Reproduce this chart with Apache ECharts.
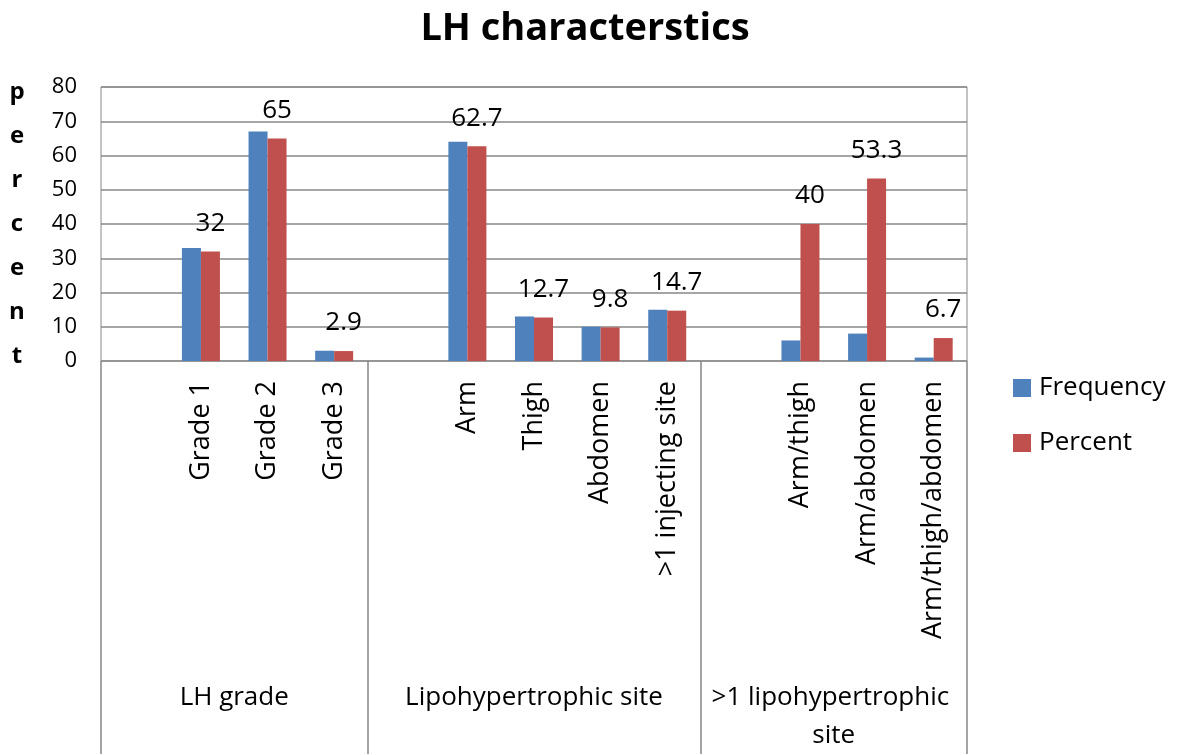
<!DOCTYPE html>
<html>
<head>
<meta charset="utf-8">
<script src="https://cdn.jsdelivr.net/npm/echarts@6/dist/echarts.min.js"></script>
<style>
  html, body { margin: 0; padding: 0; background: #fff; }
  #main { width: 1179px; height: 755px; }
</style>
</head>
<body>
<div id="main"></div>
<script>
  // categories, '' = blank slot that starts each group
  const categories = ['', 'Grade 1', 'Grade 2', 'Grade 3',
    '', 'Arm', 'Thigh', 'Abdomen', '>1 injecting site',
    '', 'Arm/thigh', 'Arm/abdomen', 'Arm/thigh/abdomen']
  const frequency = [null, 33, 67, 3, null, 64, 13, 10, 15, null, 6, 8, 1]
  const percent = [null, 32, 65, 2.9, null, 62.7, 12.7, 9.8, 14.7, null, 40, 53.3, 6.7]
  const groupNames = ['LH grade', 'Lipohypertrophic site', '>1 lipohypertrophic site']
  const yTicks = [0, 10, 20, 30, 40, 50, 60, 70, 80]
  const yName = 'percent'

  // group boundaries come from the blank slots
  const bounds = []
  categories.forEach((c, i) => { if (c === '') bounds.push(i) })
  bounds.push(categories.length)
  const centers = groupNames.map((g, i) => (bounds[i] + bounds[i + 1]) / 2)

  const font = '"Open Sans", sans-serif'
  const lineColor = '#878787'

  const option = {
    animation: false,
    textStyle: { fontFamily: font },
    title: {
      text: 'LH characterstics',
      left: 580,
      textAlign: 'center',
      top: 5,
      textStyle: { fontFamily: font, fontSize: 38, fontWeight: 'bold', color: '#000' }
    },
    legend: {
      orient: 'vertical',
      left: 1008,
      top: 370,
      itemWidth: 18,
      itemHeight: 18,
      itemGap: 29,
      icon: 'rect',
      data: ['Frequency', 'Percent'],
      textStyle: { fontFamily: font, fontSize: 26, color: '#000', padding: [0, 0, 0, 3] }
    },
    grid: { left: 101, right: 212, top: 87, bottom: 393, show: true, borderColor: lineColor, borderWidth: 1 },
    xAxis: [
      {
        type: 'category',
        data: categories,
        axisLine: { show: false },
        axisTick: { show: false },
        axisLabel: {
          interval: 0, rotate: 90, margin: 20,
          fontFamily: font, fontSize: 27, color: '#000'
        }
      },
      {
        type: 'value',
        min: 0,
        max: categories.length,
        position: 'bottom',
        axisLine: { show: false },
        splitLine: { show: false },
        axisTick: { show: true, customValues: bounds, length: 393, lineStyle: { color: lineColor, width: 1.5 } },
        axisLabel: {
          customValues: centers,
          formatter: v => groupNames[centers.indexOf(v)],
          margin: 318,
          width: 262,
          overflow: 'break',
          lineHeight: 38,
          fontFamily: font, fontSize: 26, color: '#000'
        }
      }
    ],
    yAxis: {
      type: 'value',
      min: yTicks[0],
      max: yTicks[yTicks.length - 1],
      interval: 10,
      name: yName.split('').join('\n'),
      nameLocation: 'middle',
      nameRotate: 0,
      nameGap: 84,
      nameTextStyle: {
        fontFamily: font, fontSize: 24, fontWeight: 'bold', color: '#000',
        lineHeight: 44, align: 'center', verticalAlign: 'middle', padding: [0, 0, 27, 0]
      },
      axisLine: { show: false },
      axisTick: { show: false },
      splitLine: { lineStyle: { color: lineColor, width: 1.5 } },
      axisLabel: { margin: 24, fontFamily: font, fontSize: 22, color: '#000' }
    },
    series: [
      {
        name: 'Frequency',
        type: 'bar',
        data: frequency,
        barWidth: 19,
        barGap: '0%',
        itemStyle: { color: '#4F81BD' }
      },
      {
        name: 'Percent',
        type: 'bar',
        data: percent,
        barWidth: 19,
        itemStyle: { color: '#C0504D' },
        label: {
          show: true,
          position: 'top',
          distance: 15,
          fontFamily: font,
          fontSize: 26,
          color: '#000'
        }
      }
    ]
  }

  const myChart = echarts.init(document.getElementById('main'))
  myChart.setOption(option)
</script>
</body>
</html>
